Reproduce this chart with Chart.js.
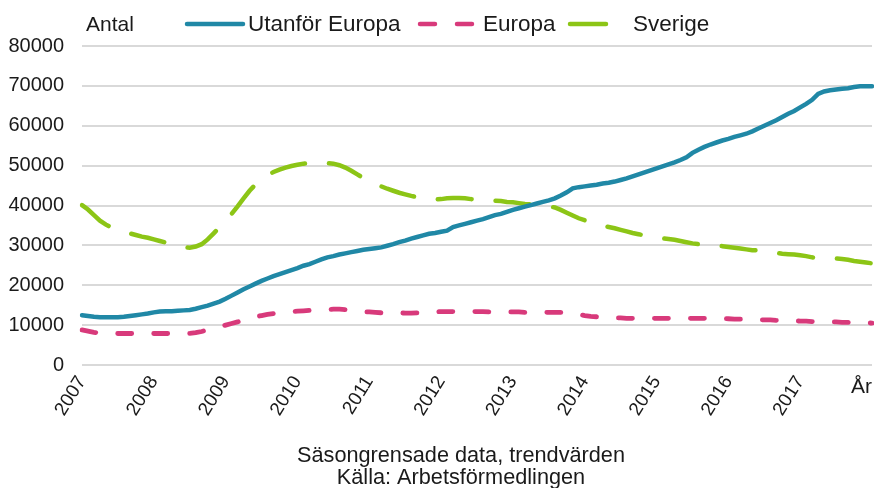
<!DOCTYPE html>
<html>
<head>
<meta charset="utf-8">
<script src="https://cdn.jsdelivr.net/npm/chart.js@4.4.1/dist/chart.umd.min.js"></script>
<style>
    html, body { margin: 0; padding: 0; background: #fff; }
    #chart { display: block; }
</style>
</head>
<body>
<canvas id="chart" width="874" height="488"></canvas>
<script>
// Month-by-month values, Jan 2007 - Jan 2018
const tickYears = ['2007', '2008', '2009', '2010', '2011', '2012', '2013', '2014', '2015', '2016', '2017'];

const utanforEuropa = [
    12500, 12300, 12100, 12000, 12000, 12000, 12000, 12100, 12300, 12500, 12700, 12900,
    13200, 13400, 13500, 13500, 13600, 13700, 13800, 14100, 14500, 14900, 15400, 15900,
    16600, 17400, 18200, 19000, 19700, 20400, 21100, 21700, 22300, 22800, 23300, 23800,
    24300, 24900, 25300, 25900, 26500, 27000, 27300, 27700, 28000, 28300, 28600, 28900,
    29100, 29300, 29500, 29900, 30300, 30800, 31200, 31700, 32100, 32500, 32900, 33100,
    33400, 33700, 34600, 35000, 35400, 35800, 36200, 36600, 37100, 37600, 37900, 38400,
    38900, 39300, 39700, 40100, 40500, 40900, 41300, 41800, 42500, 43300, 44300, 44600,
    44800, 45000, 45200, 45500, 45700, 46000, 46400, 46800, 47300, 47800, 48300, 48800,
    49300, 49800, 50300, 50800, 51400, 52100, 53200, 54000, 54700, 55300, 55800, 56300,
    56700, 57200, 57600, 58000, 58600, 59300, 60000, 60700, 61400, 62200, 63000, 63700,
    64600, 65500, 66500, 68000, 68600, 68900, 69100, 69300, 69400, 69700, 69900, 69900,
    69900
];

const europa = [
    8800, 8500, 8200, 8000, 7950, 7900, 7900, 7900, 7900, 7900, 7900, 7900,
    7900, 7900, 7900, 7900, 7900, 7900, 7950, 8100, 8400, 8800, 9200, 9600,
    10000, 10400, 10800, 11200, 11700, 12100, 12400, 12700, 12900, 13100, 13200, 13400,
    13500, 13600, 13700, 13700, 13800, 13900, 14000, 14000, 13900, 13800, 13600, 13400,
    13300, 13200, 13100, 13100, 13100, 13100, 13000, 13000, 13100, 13200, 13300, 13300,
    13400, 13400, 13400, 13400, 13400, 13400, 13400, 13400, 13300, 13300, 13300, 13300,
    13300, 13300, 13200, 13200, 13200, 13200, 13200, 13200, 13200, 13100, 13000, 12700,
    12400, 12200, 12100, 12000, 11900, 11800, 11800, 11700, 11700, 11700, 11700, 11700,
    11700, 11700, 11700, 11700, 11700, 11700, 11700, 11700, 11700, 11700, 11700, 11700,
    11600, 11500, 11500, 11500, 11400, 11400, 11300, 11300, 11200, 11200, 11200, 11100,
    11000, 11000, 10900, 10900, 10900, 10800, 10800, 10700, 10700, 10600, 10600, 10600,
    10500
];

const sverige = [
    40100, 39000, 37600, 36200, 35200, 34400, 33900, 33400, 33000, 32600, 32200, 31900,
    31500, 31100, 30700, 30300, 29900, 29600, 29400, 29700, 30300, 31500, 33000, 34600,
    36200, 37900, 39800, 41800, 43700, 45300, 46600, 47600, 48400, 49000, 49500, 49900,
    50200, 50500, 50600, 50700, 50700, 50600, 50500, 50100, 49500, 48700, 47800, 46900,
    46100, 45400, 44800, 44200, 43700, 43200, 42800, 42400, 42100, 41800, 41600, 41500,
    41600, 41800, 41900, 41900, 41800, 41600, 41500, 41400, 41300, 41200, 41100, 40900,
    40800, 40600, 40400, 40300, 40200, 40000, 39800, 39500, 38900, 38200, 37500, 36800,
    36300, 35800, 35300, 34900, 34600, 34300, 33900, 33500, 33100, 32800, 32500, 32200,
    32000, 31800, 31600, 31400, 31100, 30800, 30500, 30300, 30200, 30100, 30000, 29800,
    29600, 29400, 29200, 29000, 28800, 28700, 28500, 28300, 28100, 27900, 27800, 27700,
    27500, 27300, 27000, 26800, 26800, 26700, 26700, 26600, 26400, 26100, 25900, 25700,
    25500
];

const seriesNames = ['Utanför Europa', 'Europa', 'Sverige'];
const captionLines = ['Säsongrensade data, trendvärden', 'Källa: Arbetsförmedlingen'];

// one label per month, year text only on january
const labels = [];
tickYears.forEach(y => {
    for (let m = 0; m < 12; m++) labels.push(m === 0 ? y : '');
});
labels.push('');

const FONT = '"Liberation Sans", Arial, sans-serif';
const TEXT = '#1a1a1a';

// legend samples + extra texts, drawn by hand to sit like the original
const legendSpots = [
    { x0: 187, x1: 243, dash: [], textX: 248 },
    { x0: 420, x1: 472, dash: [15, 22], textX: 483 },
    { x0: 570, x1: 606, dash: [], textX: 633 }
];

const extraText = {
    id: 'extraText',
    afterDraw(chart) {
        const ctx = chart.ctx;
        ctx.save();
        ctx.fillStyle = TEXT;
        ctx.textBaseline = 'alphabetic';
        ctx.textAlign = 'left';
        ctx.font = '21px ' + FONT;
        ctx.fillText('Antal', 86, 31);

        ctx.font = '22.5px ' + FONT;
        chart.data.datasets.forEach((ds, i) => {
            const spot = legendSpots[i];
            ctx.beginPath();
            ctx.strokeStyle = ds.borderColor;
            ctx.lineWidth = 4.5;
            ctx.lineCap = 'round';
            ctx.setLineDash(spot.dash);
            ctx.moveTo(spot.x0, 24);
            ctx.lineTo(spot.x1, 24);
            ctx.stroke();
            ctx.setLineDash([]);
            ctx.fillText(ds.label, spot.textX, 31);
        });

        ctx.font = '21px ' + FONT;
        ctx.fillText('År', 851, 393);

        ctx.font = '21.7px ' + FONT;
        ctx.textAlign = 'center';
        ctx.fillText(captionLines[0], 461, 462);
        ctx.fillText(captionLines[1], 461, 484);
        ctx.restore();
    }
};

const ctx = document.getElementById('chart').getContext('2d');
new Chart(ctx, {
    type: 'line',
    data: {
        labels: labels,
        datasets: [{
            label: seriesNames[0],
            data: utanforEuropa,
            borderColor: '#2088a6',
            borderWidth: 4.5,
            borderCapStyle: 'round'
        }, {
            label: seriesNames[1],
            data: europa,
            borderColor: '#d83a7b',
            borderWidth: 4.8,
            borderDash: [14, 22],
            borderCapStyle: 'round'
        }, {
            label: seriesNames[2],
            data: sverige,
            borderColor: '#8cc516',
            borderWidth: 4.5,
            borderDash: [34, 24],
            borderCapStyle: 'round'
        }]
    },
    options: {
        responsive: false,
        animation: false,
        devicePixelRatio: 1,
        layout: { padding: { top: 46, right: 2, left: 0, bottom: 0 } },
        elements: {
            point: { radius: 0 },
            line: { tension: 0, fill: false }
        },
        plugins: {
            legend: { display: false },
            tooltip: { enabled: false }
        },
        scales: {
            x: {
                grid: { display: false, drawTicks: false },
                border: { display: false },
                ticks: {
                    autoSkip: false,
                    maxRotation: 58,
                    minRotation: 58,
                    padding: 7,
                    color: TEXT,
                    font: { family: FONT, size: 19 }
                },
                afterFit: s => {
                    s.height = 123;
                    // rotated labels would otherwise eat space on the right
                    s.paddingRight = 0;
                    s.paddingLeft = 0;
                }
            },
            y: {
                min: 0,
                max: 80000,
                grid: { color: '#d9d9d9', lineWidth: 2, drawTicks: false },
                border: { display: false },
                ticks: {
                    stepSize: 10000,
                    padding: 18,
                    color: TEXT,
                    font: { family: FONT, size: 20 },
                    callback: v => String(v)
                },
                afterFit: s => { s.width = 82; }
            }
        }
    },
    plugins: [extraText]
});
</script>
</body>
</html>
